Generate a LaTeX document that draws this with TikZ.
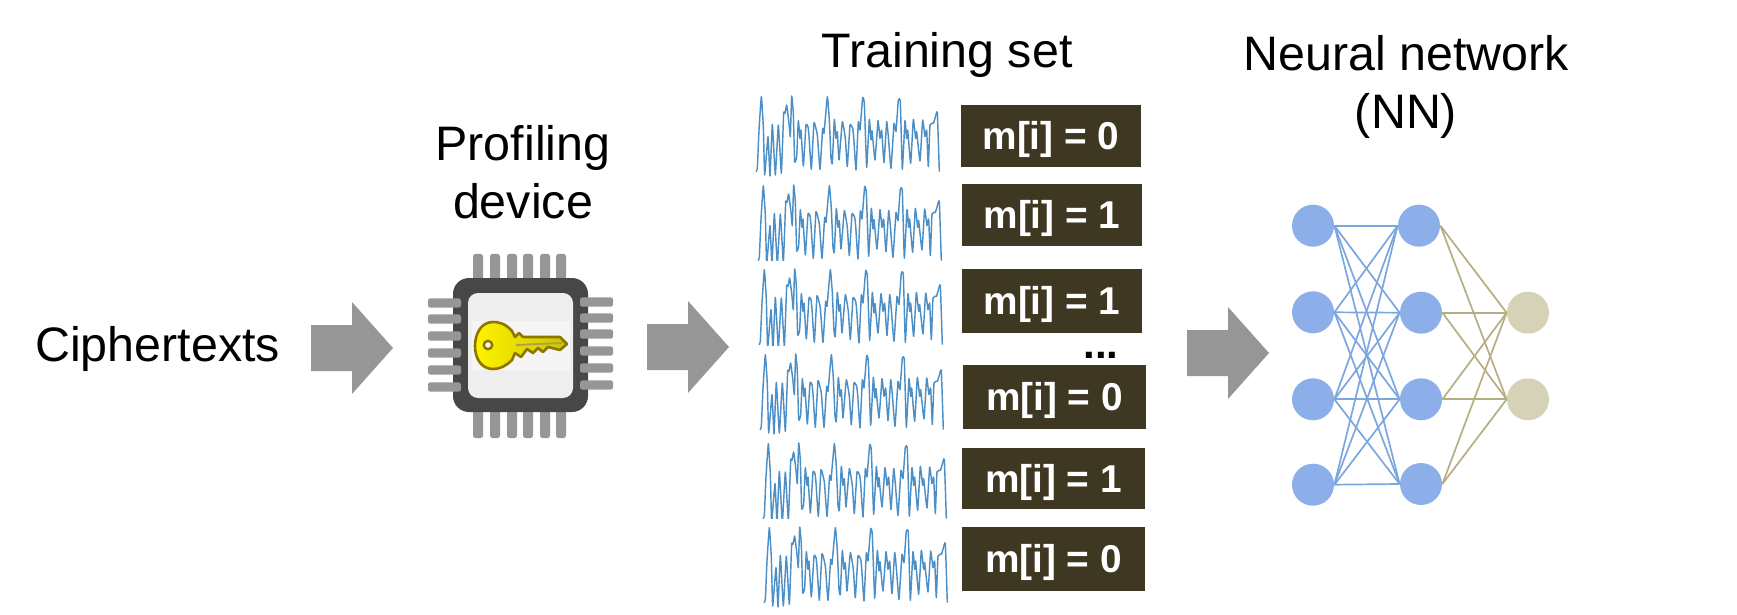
\documentclass[tikz,border=0pt]{standalone}
\usepackage{fontspec}
\setmainfont{Liberation Sans}

\definecolor{arrowgrey}{HTML}{969696}
\definecolor{chipdark}{HTML}{474747}
\definecolor{chiplight}{HTML}{EEEEEE}
\definecolor{keyedge}{HTML}{8E7500}
\definecolor{boxbrown}{HTML}{3E3823}
\definecolor{wavebl}{HTML}{4C8EC6}
\definecolor{nnblue}{HTML}{8CAEE9}
\definecolor{nnedge}{HTML}{7CA6DE}
\definecolor{nntan}{HTML}{D5D2B8}
\definecolor{tanedge}{HTML}{B5AE82}

\tikzset{
    titlelabel/.style={font=\fontsize{24.2}{29}\selectfont, align=center, anchor=base, inner sep=0pt},
    bitbox/.style={fill=boxbrown, text=white, font=\fontsize{19.4}{19.4}\selectfont\bfseries, inner sep=0pt,
        text height=13.8pt, text depth=0pt},
    neuron/.style={circle, fill=nnblue, minimum size=21pt, inner sep=0pt},
    outneuron/.style={neuron, fill=nntan},
    pin/.style={fill=arrowgrey, rounded corners=1.2pt},
}

\newcommand{\wavepath}{(48,275) (52,265) (57,150) (64,50) (70,140) (74,285) (84,170) (90,288) (97,133) (106,285)
    (115,135) (124,280) (131,100) (135,100) (140,75) (147,130) (151,170) (155,48) (160,100) (164,245) (170,230)
    (175,122) (180,175) (183,150) (190,258) (198,135) (204,140) (207,168) (214,268) (222,128) (232,165) (240,268)
    (248,145) (252,160) (262,50) (268,120) (273,235) (277,250) (283,118) (288,175) (292,155) (297,240) (307,125)
    (316,175) (322,260) (330,135) (338,145) (341,170) (348,270) (355,125) (360,150) (368,53) (373,70) (380,262)
    (388,118) (393,180) (396,152) (405,240) (414,122) (420,175) (425,150) (432,248) (440,125) (445,170) (453,265)
    (462,130) (468,155) (475,60) (481,65) (487,268) (495,122) (500,175) (503,150) (512,250) (520,118) (527,175)
    (530,155) (540,243) (548,120) (555,170) (560,150) (565,260) (570,135) (580,130) (585,115) (592,97) (598,275)}

\begin{document}
\begin{tikzpicture}[x=0.5pt, y=-0.5pt]
\useasboundingbox (0,0) rectangle (1737,615);

% labels
\node[titlelabel] (ciphertexts) at (157.5,361) {Ciphertexts};
\node[titlelabel] (profiling) at (523,219) {Profiling\\device};
\node[titlelabel] (trainingset) at (947,68) {Training set};
\node[titlelabel] (network) at (1406,129) {Neural network\\(NN)};

% block arrows
\foreach \x/\y in {311/348, 647/347, 1187/353} {
    \fill[arrowgrey] (\x,\y-23) -- ++(41,0) -- ++(0,-23) -- (\x+82,\y) -- (\x+41,\y+46) -- ++(0,-23) -- (\x,\y+23) -- cycle;
}

% chip
\foreach \x in {78,95,112,128,145,161} {
    \fill[pin] (400+\x-5,254) rectangle (400+\x+5,286);
    \fill[pin] (400+\x-5,406) rectangle (400+\x+5,438);
}
\fill[chipdark, rounded corners=8pt] (453,278) rectangle (588,412);
\foreach \y in {73,89,106,123,140,157} {
    \fill[pin] (428,230+\y-4.7) rectangle (461,230+\y+4.7);
}
\foreach \y in {72,88,104,121,138,155} {
    \fill[pin] (580,230+\y-4.7) rectangle (613,230+\y+4.7);
}
\fill[chiplight, rounded corners=5pt] (468,293) rectangle (573,398);
\fill[white!40!chiplight] (472,321) rectangle (570,370);

% key
\shade[draw=keyedge, line width=1.3pt, line join=round, left color=yellow!90!orange, right color=yellow!78!black]
    (512,331) .. controls (505,323) and (498,322) .. (493,322)
    .. controls (481,322) and (475,334) .. (475,346)
    .. controls (475,358) and (481,369) .. (493,369)
    .. controls (500,369) and (506,366) .. (512,360)
    -- (515,353) -- (521,357) -- (527,349) -- (533,353) -- (538,348) -- (543,352) -- (548,347)
    -- (560,350) -- (567,344) -- (560,337) -- (523,337) -- (519,333) -- (515,337) -- cycle;
\draw[keyedge!70, line width=0.9pt] (516,345) -- (562,343);
\draw[keyedge, fill=white!40!chiplight, line width=1.2pt] (488,345) circle (4.2);

% traces
\foreach \dx/\dy/\h in {0/0/300, 2/89/276, 3/173/279, 4/258/300, 7/347/276, 8/431/300} {
    \begin{scope}[shift={(740+\dx,80+\dy)}, x=0.5pt/3, y=-0.5pt/3]
        \clip (0,0) rectangle (640,\h);
        \draw[wavebl, line width=0.72pt, line join=round] plot[smooth, tension=0.2] coordinates {\wavepath};
    \end{scope}
}

% bit boxes
\foreach \name/\l/\t/\r/\b/\v in {
    bitA/961/105/1141/167/0,
    bitB/962/184/1142/246/1,
    bitC/962/269/1142/333/1,
    bitD/963/365/1146/429/0,
    bitE/962/448/1145/509/1,
    bitF/962/527/1145/591/0
} {
    \pgfmathsetmacro{\w}{(\r-\l)/2}
    \pgfmathsetmacro{\hh}{(\b-\t)/2}
    \node[bitbox, minimum width=\w pt, minimum height=\hh pt] (\name) at ({(\l+\r)/2},{(\t+\b)/2}) {m[i] = \v};
}
\node[font=\fontsize{21}{21}\selectfont\bfseries, anchor=base, inner sep=0pt] (dots) at (1101,358) {...};

% network
\foreach \i/\y in {1/225.7, 2/312.3, 3/399.3, 4/484.7} {
    \node[neuron] (in\i) at (1313,\y) {};
}
\foreach \i/\x/\y in {1/1419/225.7, 2/1421/312.7, 3/1421/399.3, 4/1421/484} {
    \node[neuron] (mid\i) at (\x,\y) {};
}
\node[outneuron] (out1) at (1528,312.7) {};
\node[outneuron] (out2) at (1528,399.3) {};

\foreach \i in {1,...,4} {
    \foreach \j in {1,...,4} {
        \draw[nnedge, line width=0.85pt] (in\i.east) -- (mid\j.west);
    }
    \foreach \j in {1,2} {
        \draw[tanedge, line width=0.85pt] (mid\i.east) -- (out\j.west);
    }
}

\end{tikzpicture}
\end{document}
